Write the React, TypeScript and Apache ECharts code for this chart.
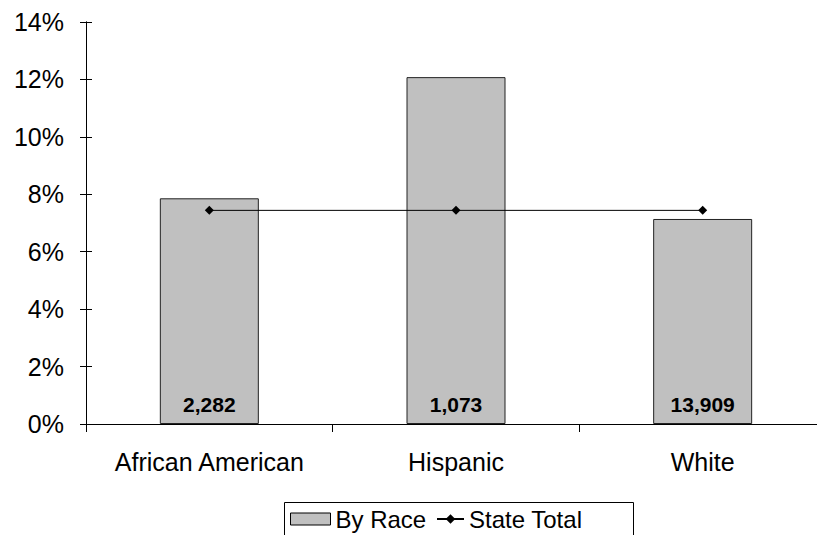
import React, { useEffect, useRef } from "react";
import * as echarts from "echarts";

const categories = ["African American", "Hispanic", "White"];
const byRace = [0.0786, 0.1208, 0.0714];
const stateTotal = [0.0744, 0.0744, 0.0744];
const counts = ["2,282", "1,073", "13,909"];
const yTicks = { min: 0, max: 0.14, interval: 0.02 };

const FONT = "Liberation Sans, Arial, sans-serif";

export default function App() {
  const ref = useRef<HTMLDivElement>(null);
  useEffect(() => {
    if (!ref.current) return;
    const chart = echarts.init(ref.current, undefined, { renderer: "svg" });
    const yCommon = {
      type: "value" as const,
      min: yTicks.min,
      max: yTicks.max,
      interval: yTicks.interval,
      splitLine: { show: false },
      axisLine: { show: true, lineStyle: { color: "#000", width: 1 } },
    };
    const legendText = { fontSize: 24, color: "#000", fontFamily: FONT };
    chart.setOption({
      animation: false,
      backgroundColor: "#fff",
      textStyle: { fontFamily: FONT },
      grid: { left: 86, top: 22, right: 0, height: 402, containLabel: false },
      graphic: [
        {
          type: "rect",
          left: 282,
          top: 500,
          shape: { width: 349, height: 45 },
          style: { fill: "none", stroke: "#000", lineWidth: 1 },
          z: 0,
        },
      ],
      legend: [
        {
          left: 290,
          top: 507,
          padding: 0,
          textStyle: legendText,
          data: [
            {
              name: "By Race",
              icon: "rect",
              itemStyle: { color: "#c0c0c0", borderColor: "#000", borderWidth: 1 },
            },
          ],
          itemWidth: 40,
          itemHeight: 12,
        },
        {
          left: 436,
          top: 507,
          padding: 0,
          textStyle: legendText,
          data: [{ name: "State Total" }],
          itemWidth: 27,
          itemHeight: 12,
        },
      ],
      xAxis: {
        type: "category",
        data: categories,
        axisLine: { lineStyle: { color: "#000", width: 1 } },
        axisTick: { show: true, interval: 0, alignWithLabel: false, length: 8, lineStyle: { color: "#000" } },
        axisLabel: {
          interval: 0,
          hideOverlap: false,
          fontSize: 25,
          color: "#000",
          margin: 25,
          fontFamily: FONT,
        },
      },
      yAxis: [
        {
          ...yCommon,
          axisTick: { show: true, inside: false, length: 6, lineStyle: { color: "#000" } },
          axisLabel: {
            fontSize: 25,
            color: "#000",
            margin: 22,
            fontFamily: FONT,
            formatter: (v: number) => Math.round(v * 100) + "%",
          },
        },
        {
          ...yCommon,
          position: "left",
          axisTick: { show: true, inside: true, length: 6, lineStyle: { color: "#000" } },
          axisLabel: { show: false },
        },
      ],
      series: [
        {
          name: "By Race",
          type: "bar",
          data: byRace,
          barWidth: 99,
          itemStyle: { color: "#c0c0c0", borderColor: "#222", borderWidth: 1 },
          label: {
            show: true,
            position: "insideBottom",
            distance: 9,
            fontSize: 21,
            fontWeight: "bold",
            color: "#000",
            fontFamily: FONT,
            formatter: (p: any) => counts[p.dataIndex],
          },
        },
        {
          name: "State Total",
          type: "line",
          data: stateTotal,
          symbol: "diamond",
          symbolSize: 9,
          lineStyle: { color: "#000", width: 1 },
          itemStyle: { color: "#000" },
        },
      ],
    });
    return () => chart.dispose();
  }, []);
  return (
    <div
      ref={ref}
      style={{ position: "fixed", left: 0, top: 0, width: 826, height: 535, background: "#fff" }}
    />
  );
}
